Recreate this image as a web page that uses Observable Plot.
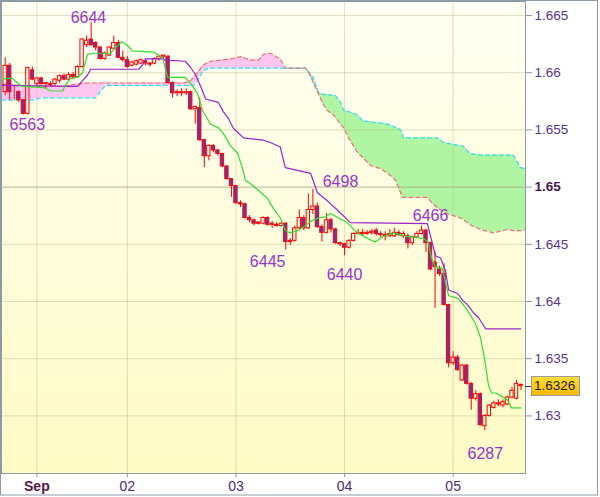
<!DOCTYPE html>
<html><head><meta charset="utf-8">
<script src="https://cdn.jsdelivr.net/npm/d3@7"></script>
<script src="https://cdn.jsdelivr.net/npm/@observablehq/plot@0.6"></script>
<style>
html,body{margin:0;padding:0;background:#fff;}
#chart svg{display:block;}
</style>
</head><body><div id="chart"></div>
<script>
// ---- hourly candles (index 0..114) ----
const candleOpen = [
1.6583,1.6606,1.6584,1.6583,1.6576,1.6564,1.6602,1.6590,1.6595,1.6590,
1.6590,1.6590,1.6593,1.6597,1.6594,1.6598,1.6596,1.6605,1.6624,1.6629,
1.6626,1.6622,1.6612,1.6615,1.6621,1.6626,1.6613,1.6611,1.6606,1.6607,
1.6608,1.6610,1.6608,1.6608,1.6612,1.6614,1.6614,1.6591,1.6582,1.6583,
1.6582,1.6583,1.6568,1.6569,1.6541,1.6527,1.6536,1.6532,1.6529,1.6518,
1.6507,1.6501,1.6486,1.6485,1.6473,1.6471,1.6469,1.6468,1.6473,1.6467,
1.6467,1.6466,1.6468,1.6452,1.6453,1.6464,1.6473,1.6464,1.6480,1.6483,
1.6465,1.6460,1.6471,1.6463,1.6451,1.6450,1.6447,1.6453,1.6459,1.6460,
1.6459,1.6460,1.6462,1.6459,1.6458,1.6457,1.6457,1.6460,1.6457,1.6457,
1.6451,1.6456,1.6459,1.6462,1.6451,1.6434,1.6428,1.6424,1.6397,1.6346,
1.6351,1.6331,1.6344,1.6328,1.6315,1.6319,1.6291,1.6300,1.6307,1.6310,
1.6309,1.6310,1.6316,1.6315,1.6327];
const candleHigh = [
1.6613,1.6608,1.6589,1.6584,1.6576,1.6605,1.6605,1.6596,1.6596,1.6591,
1.6592,1.6595,1.6598,1.6599,1.6600,1.6600,1.6606,1.6630,1.6632,1.6644,
1.6627,1.6623,1.6618,1.6623,1.6632,1.6628,1.6619,1.6614,1.6610,1.6611,
1.6612,1.6612,1.6609,1.6613,1.6615,1.6615,1.6615,1.6592,1.6585,1.6586,
1.6586,1.6584,1.6571,1.6578,1.6542,1.6537,1.6537,1.6533,1.6529,1.6519,
1.6507,1.6501,1.6488,1.6486,1.6475,1.6472,1.6470,1.6474,1.6474,1.6470,
1.6469,1.6469,1.6469,1.6455,1.6466,1.6480,1.6475,1.6494,1.6498,1.6486,
1.6467,1.6477,1.6473,1.6464,1.6452,1.6451,1.6454,1.6460,1.6463,1.6463,
1.6462,1.6463,1.6464,1.6461,1.6461,1.6463,1.6464,1.6462,1.6461,1.6459,
1.6457,1.6461,1.6466,1.6463,1.6452,1.6443,1.6431,1.6433,1.6397,1.6356,
1.6353,1.6345,1.6345,1.6329,1.6322,1.6320,1.6301,1.6310,1.6313,1.6314,
1.6314,1.6317,1.6325,1.6331,1.6328];
const candleLow = [
1.6580,1.6576,1.6576,1.6574,1.6563,1.6563,1.6593,1.6588,1.6589,1.6586,
1.6587,1.6588,1.6591,1.6593,1.6593,1.6594,1.6595,1.6604,1.6622,1.6623,
1.6619,1.6611,1.6611,1.6614,1.6620,1.6612,1.6609,1.6604,1.6605,1.6606,
1.6607,1.6606,1.6605,1.6607,1.6610,1.6611,1.6590,1.6578,1.6579,1.6579,
1.6580,1.6567,1.6555,1.6540,1.6517,1.6523,1.6530,1.6527,1.6517,1.6506,
1.6491,1.6485,1.6482,1.6472,1.6469,1.6466,1.6467,1.6467,1.6466,1.6464,
1.6465,1.6465,1.6445,1.6449,1.6452,1.6462,1.6462,1.6463,1.6476,1.6464,
1.6452,1.6459,1.6460,1.6450,1.6448,1.6440,1.6446,1.6452,1.6458,1.6457,
1.6458,1.6458,1.6457,1.6456,1.6453,1.6456,1.6456,1.6457,1.6455,1.6446,
1.6449,1.6455,1.6458,1.6443,1.6427,1.6394,1.6422,1.6396,1.6342,1.6344,
1.6339,1.6330,1.6327,1.6305,1.6313,1.6291,1.6287,1.6299,1.6306,1.6308,
1.6307,1.6309,1.6315,1.6314,1.6322];
const candleClose = [
1.6606,1.6583,1.6584,1.6576,1.6564,1.6604,1.6594,1.6595,1.6590,1.6591,
1.6589,1.6594,1.6597,1.6594,1.6598,1.6596,1.6605,1.6629,1.6628,1.6624,
1.6622,1.6612,1.6617,1.6622,1.6626,1.6613,1.6611,1.6605,1.6609,1.6610,
1.6611,1.6608,1.6607,1.6612,1.6614,1.6615,1.6591,1.6582,1.6583,1.6582,
1.6583,1.6568,1.6570,1.6541,1.6527,1.6536,1.6532,1.6529,1.6518,1.6507,
1.6501,1.6486,1.6485,1.6473,1.6471,1.6468,1.6468,1.6473,1.6467,1.6468,
1.6466,1.6468,1.6452,1.6453,1.6464,1.6473,1.6464,1.6480,1.6483,1.6465,
1.6460,1.6471,1.6463,1.6451,1.6450,1.6447,1.6453,1.6459,1.6460,1.6459,
1.6460,1.6461,1.6459,1.6458,1.6457,1.6459,1.6460,1.6458,1.6459,1.6451,
1.6456,1.6459,1.6462,1.6451,1.6428,1.6430,1.6424,1.6397,1.6346,1.6351,
1.6340,1.6344,1.6328,1.6315,1.6319,1.6292,1.6300,1.6309,1.6311,1.6311,
1.6312,1.6316,1.6322,1.6328,1.6326];

// ---- Tenkan (green) vertices ----
const tenkanIdx = [-0.8,0.1,1.6,2.7,3.8,8.5,10.0,12.7,13.3,14.4,16.0,17.1,17.7,18.2,19.5,23.3,24.4,25.7,27.0,28.1,32.8,34.8,35.9,39.8,40.9,42.5,43.6,45.4,47.1,48.2,49.8,51.3,52.4,53.1,54.2,56.0,58.0,59.3,60.8,61.9,63.0,64.6,65.9,67.5,69.2,70.8,71.9,73.7,75.6,77.0,77.9,80.1,81.8,83.6,85.8,88.5,90.7,92.4,93.5,94.2,95.1,96.6,98.0,100.0,101.1,102.2,103.9,105.0,105.9,106.8,107.5,108.4,111.0,111.9,113.9];
const tenkanVal = [1.6593,1.6595,1.6595,1.6591,1.6588,1.6587,1.6584,1.6584,1.6589,1.6595,1.6596,1.6600,1.6609,1.6616,1.6617,1.6617,1.6622,1.6627,1.6624,1.6619,1.6618,1.6613,1.6596,1.6596,1.6591,1.6582,1.6567,1.6555,1.6552,1.6547,1.6536,1.6530,1.6517,1.6506,1.6503,1.6497,1.6490,1.6481,1.6473,1.6462,1.6460,1.6462,1.6465,1.6470,1.6473,1.6474,1.6477,1.6473,1.6469,1.6463,1.6460,1.6455,1.6452,1.6457,1.6460,1.6457,1.6456,1.6455,1.6452,1.6438,1.6430,1.6429,1.6405,1.6403,1.6398,1.6392,1.6381,1.6369,1.6351,1.6327,1.6320,1.6320,1.6314,1.6307,1.6307];

// ---- Kijun (purple) vertices ----
const kijunIdx = [-0.8,16.0,17.1,18.2,18.9,29.5,30.4,31.0,35.0,35.4,39.8,40.9,42.1,43.2,44.3,47.1,48.2,49.3,50.5,52.7,57.1,58.6,60.8,61.9,67.5,69.0,71.2,73.4,76.3,93.3,94.4,95.1,96.2,97.3,98.0,100.0,101.1,102.2,103.5,104.6,106.2,113.9];
const kijunVal = [1.6589,1.6588,1.6593,1.6598,1.6603,1.6603,1.6607,1.6612,1.6612,1.6611,1.6610,1.6605,1.6598,1.6588,1.6577,1.6574,1.6566,1.6560,1.6551,1.6543,1.6541,1.6539,1.6535,1.6517,1.6512,1.6495,1.6488,1.6480,1.6469,1.6468,1.6451,1.6440,1.6438,1.6427,1.6410,1.6407,1.6401,1.6397,1.6390,1.6386,1.6376,1.6376];

// ---- Cloud spans ----
const cloudIdx = [-0.8,6.0,8.0,12.0,16.0,18.0,20.0,21.1,22.2,39.5,41.0,41.6,42.5,43.8,44.9,45.5,49.8,52.0,54.2,56.0,57.1,58.6,60.8,61.9,66.4,67.5,68.1,69.2,70.2,71.2,72.6,73.0,74.1,74.8,75.9,77.9,79.0,80.7,83.0,84.5,85.2,86.3,86.9,87.4,87.8,88.0,93.3,94.4,95.5,96.9,100.6,101.1,102.8,103.3,105.0,107.9,111.0,112.3,113.9,115.0];
const spanA = [1.6576,1.6576,1.6578,1.6578,1.6578,1.6578,1.6578,1.6584,1.6589,1.6589,1.6589,1.6589,1.6593,1.6602,1.6604,1.6604,1.6604,1.6604,1.6604,1.6604,1.6604,1.6604,1.6604,1.6604,1.6604,1.6599,1.6595,1.6583,1.6581,1.6581,1.6580,1.6580,1.6574,1.6567,1.6566,1.6563,1.6558,1.6557,1.6556,1.6555,1.6554,1.6552,1.6551,1.6550,1.6546,1.6543,1.6543,1.6543,1.6543,1.6539,1.6536,1.6536,1.6529,1.6529,1.6528,1.6528,1.6528,1.6528,1.6517,1.6516];
const spanB = [1.6590,1.6588,1.6588,1.6588,1.6590,1.6591,1.6591,1.6591,1.6591,1.6591,1.6593,1.6596,1.6600,1.6607,1.6609,1.6610,1.6612,1.6614,1.6611,1.6611,1.6616,1.6617,1.6612,1.6604,1.6604,1.6597,1.6591,1.6582,1.6573,1.6567,1.6563,1.6561,1.6555,1.6552,1.6543,1.6530,1.6526,1.6519,1.6516,1.6512,1.6510,1.6506,1.6500,1.6495,1.6491,1.6491,1.6491,1.6486,1.6482,1.6478,1.6473,1.6472,1.6467,1.6466,1.6463,1.6460,1.6463,1.6462,1.6462,1.6463];

// ---- extreme labels ----
const labelIdx = [18.4, 4.9, 58.0, 75.0, 74.1, 94.0, 106.1];
const labelVal = [1.6644, 1.6563, 1.6445, 1.6440, 1.6498, 1.6466, 1.6287];
const labelDy  = [-4, 10, 11.5, 19, -8, -10.5, 23];

// ---- ticks ----
const yTicks = [1.665, 1.66, 1.655, 1.65, 1.645, 1.64, 1.635, 1.63];
const yTickLabels = ["1.665","1.66","1.655","1.65","1.645","1.64","1.635","1.63"];
const xTickIdx = [7, 27, 51, 75, 99];
const xTickLabels = ["Sep","02","03","04","05"];

// ---- build tables ----
const candles = candleOpen.map((o, i) => ({i, o, h: candleHigh[i], l: candleLow[i], c: candleClose[i]}));
const bull = candles.filter(d => d.c >= d.o);
const bear = candles.filter(d => d.c < d.o);
const tenkan = tenkanIdx.map((x, k) => ({x, v: tenkanVal[k]}));
const kijun = kijunIdx.map((x, k) => ({x, v: kijunVal[k]}));
const cloud = cloudIdx.map((x, k) => ({x, a: spanA[k], b: spanB[k]}));
const labels = labelIdx.map((x, k) => ({x, v: labelVal[k], dy: labelDy[k], t: String(Math.round(labelVal[k] * 10000) % 10000)}));
const yLab = new Map(yTicks.map((v, k) => [v, yTickLabels[k]]));
const xLab = new Map(xTickIdx.map((v, k) => [v, xTickLabels[k]]));
const lastClose = candleClose[candleClose.length - 1];

const gridCol = "#bdb98a";
const axisCol = "#8d9ba7";
const half = 0.37;

const plot = Plot.plot({
  width: 600, height: 497,
  marginLeft: 1, marginRight: 75, marginTop: 1, marginBottom: 24,
  style: {fontFamily: "'Liberation Sans', Arial, sans-serif", background: "transparent"},
  x: {type: "linear", domain: [-0.818, 114.99], axis: null},
  y: {type: "linear", domain: [1.624965, 1.666224], axis: null},
  marks: [
    Plot.areaY(cloud, {x: "x", y1: "a", y2: d => Math.max(d.a, d.b), fill: "#ffc6ef", curve: "linear"}),
    Plot.areaY(cloud, {x: "x", y1: "b", y2: d => Math.max(d.a, d.b), fill: "#b0f6a2", curve: "linear"}),
    Plot.ruleY(yTicks.filter(v => v !== 1.65), {stroke: gridCol, strokeOpacity: 0.45}),
    Plot.ruleY([1.65], {stroke: "#a8a684", strokeOpacity: 0.85}),
    Plot.ruleX(xTickIdx, {stroke: gridCol, strokeOpacity: 0.45}),
    Plot.line(cloud, {x: "x", y: "a", stroke: "#30dcec", strokeDasharray: "4,3", strokeWidth: 1.2}),
    Plot.line(cloud, {x: "x", y: "b", stroke: "#f07070", strokeDasharray: "4,3", strokeWidth: 1.2}),
    Plot.ruleX(candles, {x: "i", y1: "h", y2: d => Math.max(d.o, d.c), stroke: "#ff0000"}),
    Plot.ruleX(candles, {x: "i", y1: d => Math.min(d.o, d.c), y2: "l", stroke: "#ff0000"}),
    Plot.rect(bear, {x1: d => d.i - half, x2: d => d.i + half, y1: "o", y2: "c", fill: "#7431a4", stroke: "#ff0000", strokeWidth: 1}),
    Plot.rect(bull, {x1: d => d.i - half, x2: d => d.i + half, y1: "o", y2: "c", fill: "none", stroke: "#ff0000", strokeWidth: 1}),
    Plot.line(kijun, {x: "x", y: "v", stroke: "#9b22cc", strokeWidth: 1.2}),
    Plot.line(tenkan, {x: "x", y: "v", stroke: "#2ee02e", strokeWidth: 1.2}),
    ...labels.map(l => Plot.text([l], {x: "x", y: "v", text: "t", dy: l.dy, fill: "#9933cc", fontSize: 16})),
    Plot.frame({stroke: axisCol}),
    Plot.axisY({anchor: "right", ticks: yTicks.filter(v => v !== 1.65), tickFormat: d => yLab.get(d), tickSize: 6, tickPadding: 3, fontSize: 13.5, fill: "#56348a", stroke: axisCol}),
    Plot.axisY({anchor: "right", ticks: [1.65], tickFormat: d => yLab.get(d), tickSize: 6, tickPadding: 3, fontSize: 13.5, fontWeight: "bold", fill: "#4a1656", stroke: axisCol}),
    Plot.axisX({anchor: "bottom", ticks: xTickIdx.slice(1), tickFormat: d => xLab.get(d), tickSize: 4, tickPadding: 4, fontSize: 14, fill: "#4e2a78", stroke: axisCol}),
    Plot.axisX({anchor: "bottom", ticks: [xTickIdx[0]], tickFormat: d => xLab.get(d), tickSize: 4, tickPadding: 4, fontSize: 14, fontWeight: "bold", fill: "#5a1446", stroke: axisCol})
  ]
});

const ns = "http://www.w3.org/2000/svg";
const svg = d3.select(plot);
const defs = svg.insert("defs", ":first-child");
const g1 = defs.append("linearGradient").attr("id", "bgGrad").attr("x1", 0).attr("y1", 0).attr("x2", 0).attr("y2", 1);
g1.append("stop").attr("offset", "0%").attr("stop-color", "#fffff3");
g1.append("stop").attr("offset", "100%").attr("stop-color", "#fefbc6");
const g2 = defs.append("linearGradient").attr("id", "goldGrad").attr("x1", 0).attr("y1", 0).attr("x2", 0).attr("y2", 1);
g2.append("stop").attr("offset", "0%").attr("stop-color", "#ffdf3a");
g2.append("stop").attr("offset", "100%").attr("stop-color", "#f6b800");
const xr = plot.scale("x").range, yr = plot.scale("y").range;
const bg = document.createElementNS(ns, "rect");
bg.setAttribute("x", Math.min(...xr)); bg.setAttribute("y", Math.min(...yr));
bg.setAttribute("width", Math.abs(xr[1] - xr[0])); bg.setAttribute("height", Math.abs(yr[1] - yr[0]));
bg.setAttribute("fill", "url(#bgGrad)");
plot.insertBefore(bg, defs.node().nextSibling);

const yp = plot.scale("y").apply(lastClose);
const right = Math.max(...xr);
const pb = svg.append("g").attr("text-anchor", "start");
pb.append("line").attr("x1", right).attr("x2", right + 6).attr("y1", Math.round(yp) + 0.5).attr("y2", Math.round(yp) + 0.5).attr("stroke", "#333");
pb.append("rect").attr("x", right + 6.5).attr("y", Math.round(yp) - 9.5).attr("width", 48).attr("height", 19)
  .attr("fill", "url(#goldGrad)").attr("stroke", "#9a9a9a");
pb.append("text").attr("x", right + 9).attr("y", yp).attr("dy", "0.35em").attr("font-size", 13.5)
  .attr("text-anchor", "start").attr("fill", "#222").text(lastClose.toFixed(4));

svg.append("rect").attr("x", 0.5).attr("y", 0.5).attr("width", 597).attr("height", 494.5)
  .attr("fill", "none").attr("stroke", axisCol);

document.getElementById("chart").appendChild(plot);
</script>
</body></html>
